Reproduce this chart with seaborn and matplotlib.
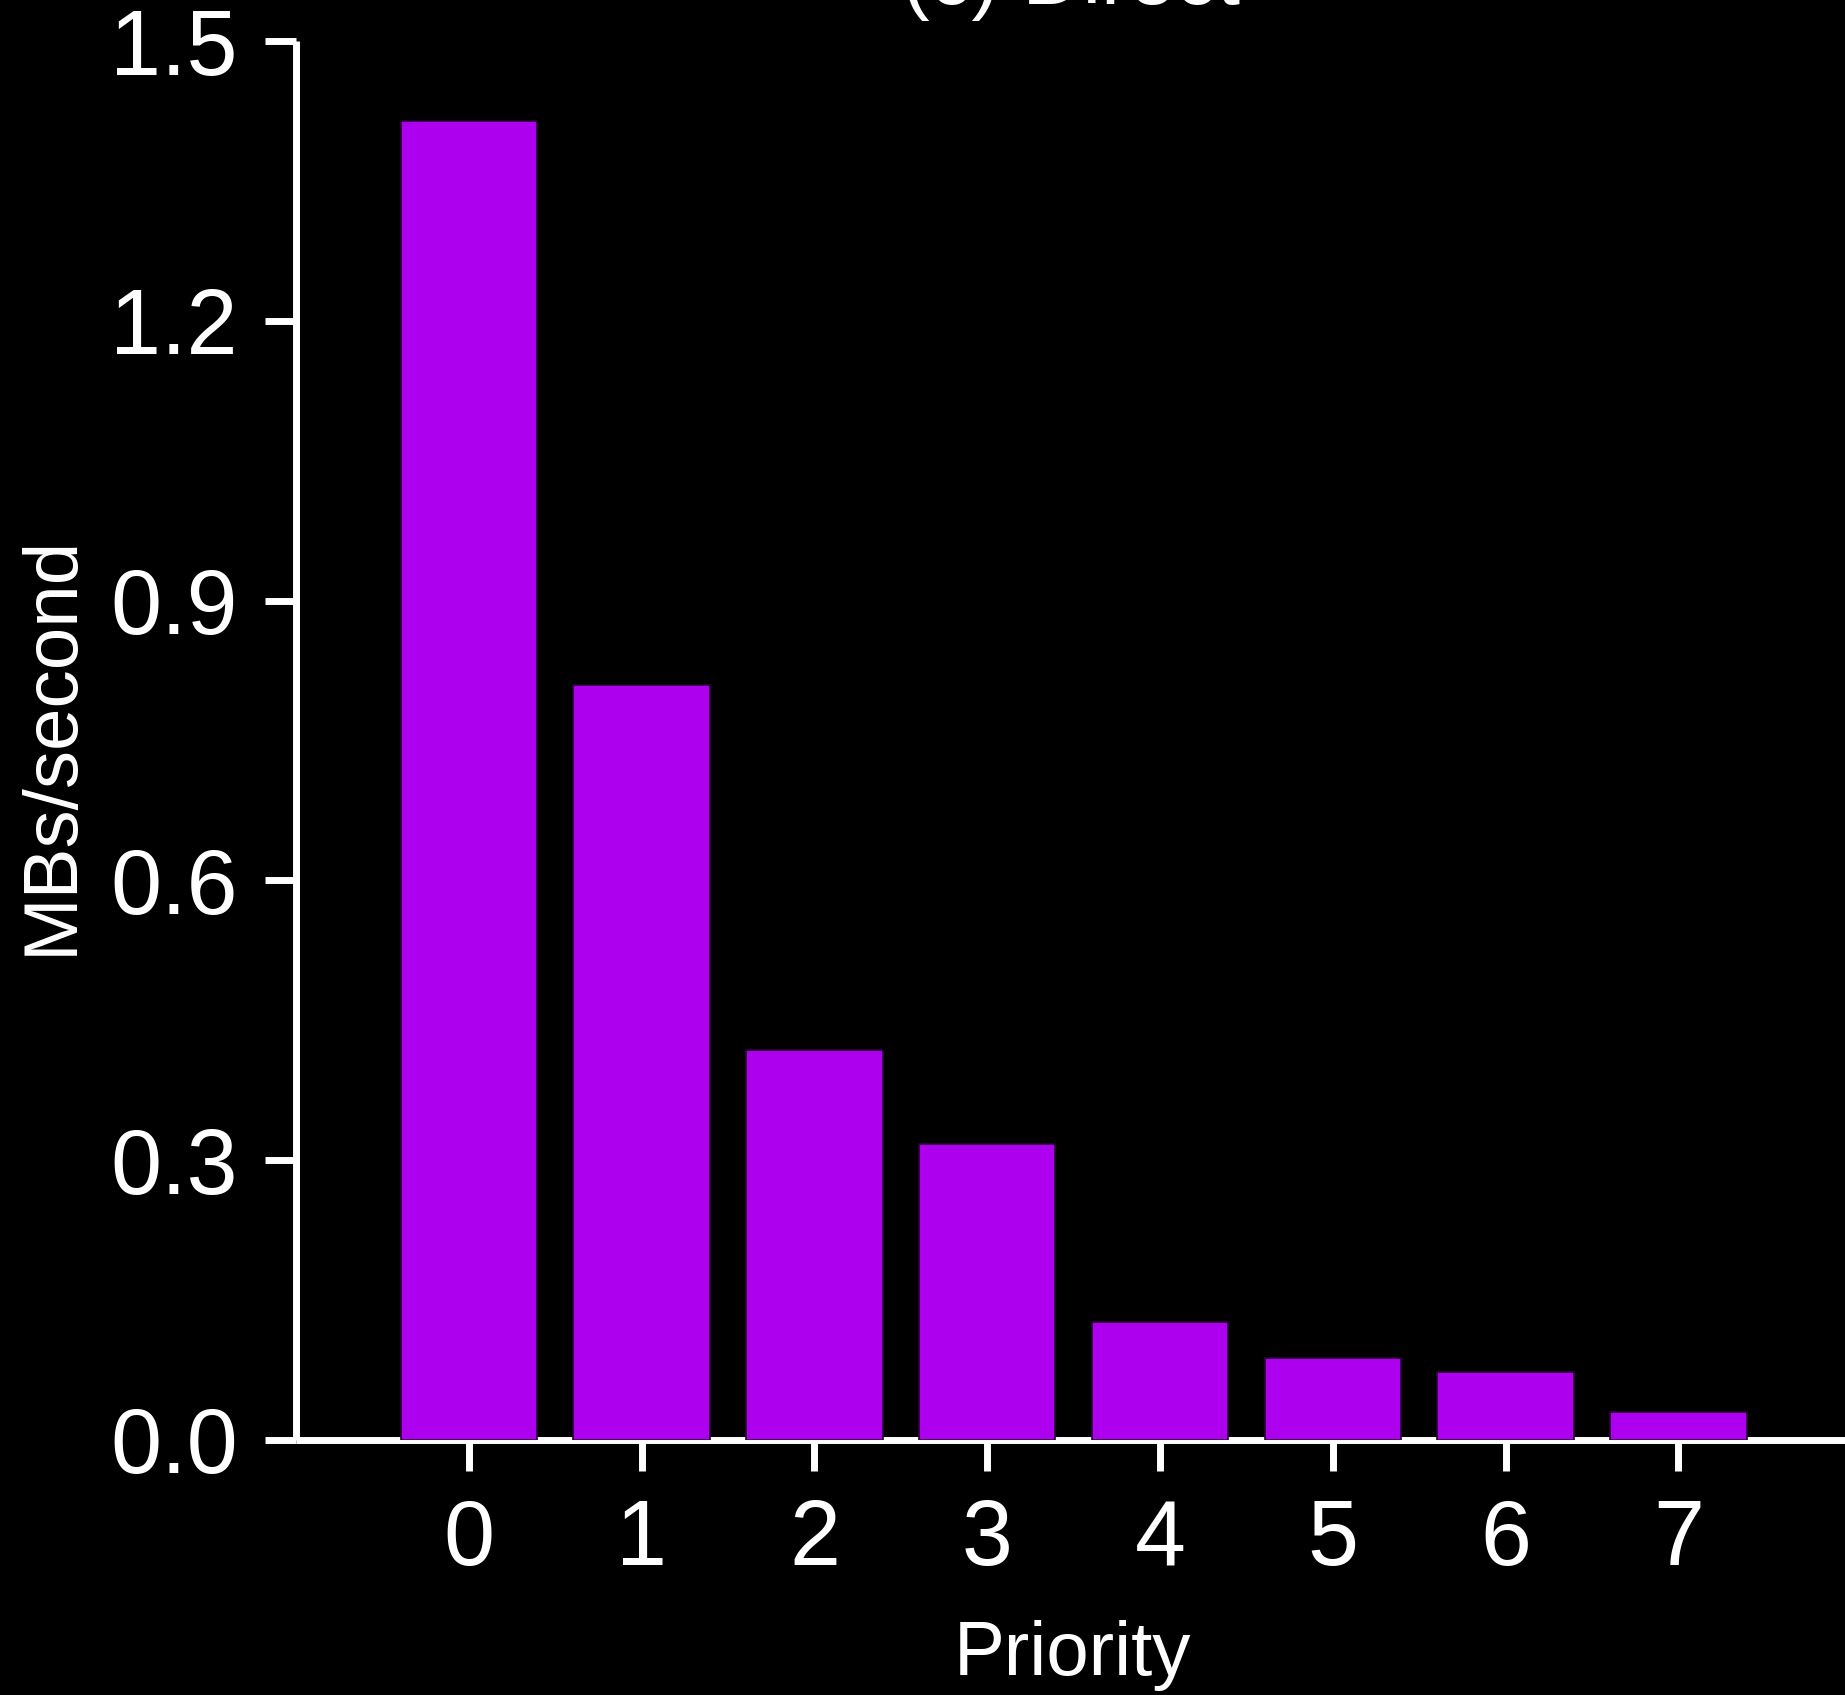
import matplotlib
matplotlib.use("Agg")
from matplotlib import pyplot as plt
import pandas as pd
import seaborn as sns

# values
priorities = ["0", "1", "2", "3", "4", "5", "6", "7"]
mbs_per_second = [1.414, 0.810, 0.418, 0.317, 0.126, 0.088, 0.073, 0.030]
y_ticks = [0.0, 0.3, 0.6, 0.9, 1.2, 1.5]
title = "(c) Direct"

bar_color = "#ad00ef"
fg = "white"

sns.set_theme(style="ticks")
plt.rcParams["font.family"] = ["Liberation Sans", "DejaVu Sans"]

df = pd.DataFrame({"Priority": priorities, "MBs/second": mbs_per_second})

W, H = 1845, 1695
fig = plt.figure(figsize=(W / 100, H / 100), dpi=100, facecolor="black")
ax = fig.add_axes([296 / W, 1 - 1440 / H, (W - 296) / W, (1440 - 41) / H])
ax.set_facecolor("black")

sns.barplot(data=df, x="Priority", y="MBs/second", color=bar_color,
            saturation=1, width=0.79, edgecolor="#2a0033", linewidth=1.2,
            ax=ax, zorder=3)

ax.set_xlim(-1, -1 + (W - 296) / 172.8)
ax.set_ylim(0, 1.5)
ax.set_yticks(y_ticks)
ax.set_yticklabels([f"{v:.1f}" for v in y_ticks])

for side in ["top", "right"]:
    ax.spines[side].set_visible(False)
for side in ["left", "bottom"]:
    ax.spines[side].set_color(fg)
    ax.spines[side].set_linewidth(5)
    ax.spines[side].set_capstyle("butt")

ax.tick_params(axis="both", colors=fg, width=5, length=22, labelsize=66)
ax.tick_params(axis="y", pad=20)
ax.tick_params(axis="x", pad=20)

ax.set_xlabel("Priority", color=fg, fontsize=55)
ax.set_ylabel("MBs/second", color=fg, fontsize=55)
ax.xaxis.set_label_coords(0.5016, -0.129)
ax.yaxis.set_label_coords(-0.1345, 0.497)

fig.text((296 + W) / 2 / W, 1 - 4 / H, title, color=fg, fontsize=60,
         ha="center", va="baseline")

fig.savefig("out.png", dpi=100, facecolor="black")
